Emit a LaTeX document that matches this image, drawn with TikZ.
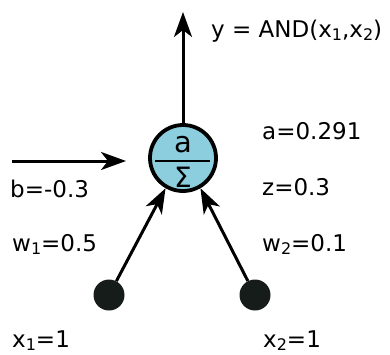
\documentclass[tikz,border=0pt]{standalone}
\usepackage{fontspec}
\setmainfont{DejaVu Sans}
\usetikzlibrary{arrows.meta}
\definecolor{neuronblue}{RGB}{140,205,222}
\definecolor{dotblack}{RGB}{22,28,26}
\newcommand{\sbs}[1]{\raisebox{-0.3ex}{\fontsize{16}{16}\selectfont #1}}
\tikzset{
  lbl/.style={anchor=base west, inner sep=0pt, font=\fontsize{23}{26}\selectfont},
  conn/.style={line width=3pt, -{Stealth[length=25pt,width=18pt,inset=7pt]}},
  inputdot/.style={circle, fill=dotblack, minimum size=31pt, inner sep=0pt},
  neuron/.style={circle, draw=black, line width=3.8pt, fill=neuronblue, minimum size=66pt, inner sep=0pt}
}
\begin{document}
\begin{tikzpicture}[x=1pt,y=-1pt]
\useasboundingbox (0,0) rectangle (390,354);
\node[neuron] (n) at (183,158) {};
\node[inner sep=0pt, font=\fontsize{29}{29}\selectfont] (na) at (183,145) {a};
\node[inner sep=0pt, font=\fontsize{28}{28}\selectfont] (ns) at (183,177) {Σ};
\draw[line width=1.6pt] (155,161) -- (210,161);
\node[inputdot] (in1) at (109,295) {};
\node[inputdot] (in2) at (255,295) {};
\coordinate (top) at (183,12);
\coordinate (leftstart) at (12,161);
\coordinate (lefttip) at (126,161);
\draw[conn] (n.north) -- (top);
\draw[conn] (leftstart) -- (lefttip);
\draw[conn] (in1) -- (n.-120);
\draw[conn] (in2) -- (n.-60);
\node[lbl] (ylbl) at (211,37) {y = AND(x\sbs{1},x\sbs{2})};
\node[lbl] (albl) at (262,139) {a=0.291};
\node[lbl] (zlbl) at (262,195) {z=0.3};
\node[lbl] (w2lbl) at (262,251) {w\sbs{2}=0.1};
\node[lbl] (blbl) at (10,197) {b=-0.3};
\node[lbl] (w1lbl) at (12,251) {w\sbs{1}=0.5};
\node[lbl] (x1lbl) at (12,347) {x\sbs{1}=1};
\node[lbl] (x2lbl) at (263,347) {x\sbs{2}=1};
\end{tikzpicture}
\end{document}
